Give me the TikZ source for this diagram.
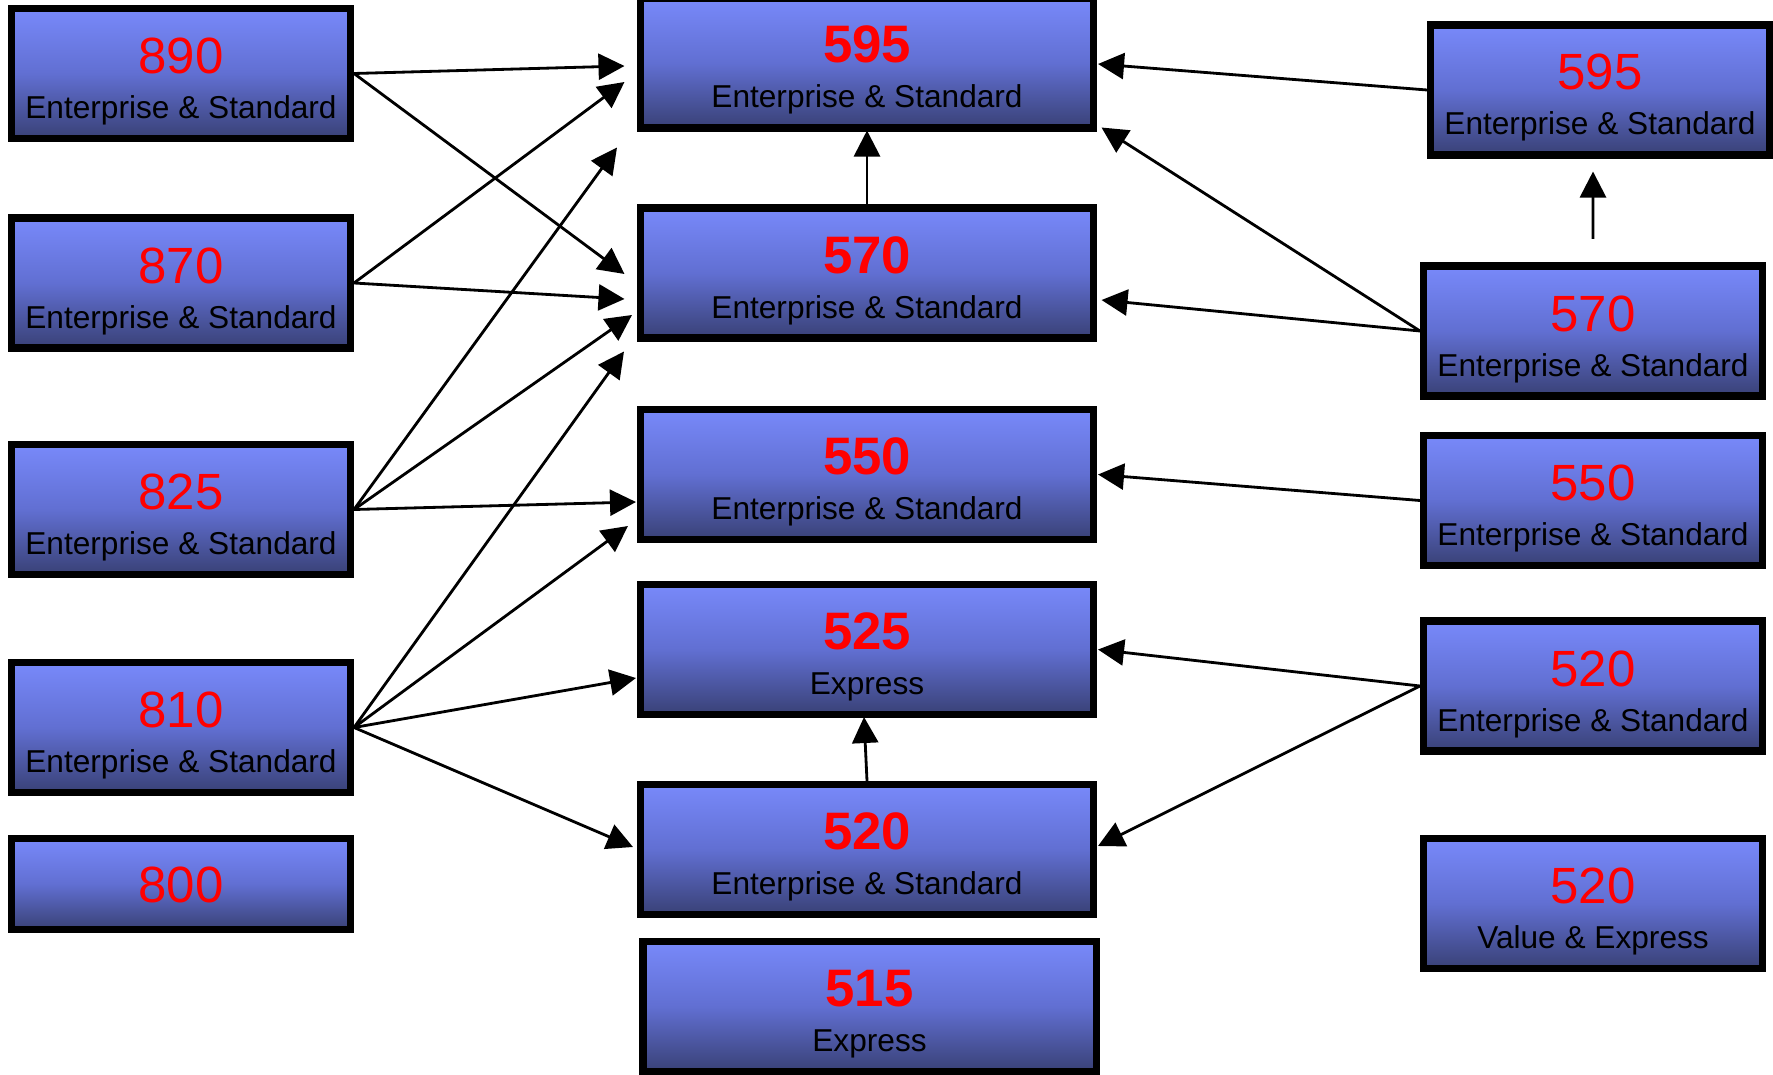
\documentclass[tikz,border=0pt]{standalone}
\usepackage{fontspec}
\setmainfont{Liberation Sans}
\usetikzlibrary{arrows.meta, calc}
\definecolor{boxtop}{RGB}{120,137,250}
\definecolor{boxmid}{RGB}{97,111,210}
\definecolor{boxbot}{RGB}{57,65,118}

\begin{document}
\begin{tikzpicture}[>={Triangle[length=2.6mm, width=2.6mm]},
  gbox/.style={draw, line width=2pt, top color=boxtop, bottom color=boxbot, middle color=boxmid, inner sep=0pt, text height=0pt, text depth=0pt, text=red},
  sidebox/.style={gbox, minimum width=3.39cm, minimum height=1.30cm, font=\fontsize{14.5}{17}\selectfont},
  midbox/.style={gbox, minimum width=4.53cm, minimum height=1.30cm, font=\bfseries\fontsize{15}{18}\selectfont},
  subtxt/.style={anchor=base, inner sep=0pt, font=\fontsize{9}{11}\selectfont},
  link/.style={->, line width=0.8pt}]
  \useasboundingbox (0,0) rectangle (17.73,-10.74);

  % left column
  \node[sidebox] (l890) at (1.81,-0.735) {890};
  \node[subtxt] (l890t) at ($(l890.center)+(0,-0.45)$) {Enterprise \& Standard};
  \node[sidebox] (l870) at (1.81,-2.83) {870};
  \node[subtxt] (l870t) at ($(l870.center)+(0,-0.45)$) {Enterprise \& Standard};
  \node[sidebox] (l825) at (1.81,-5.095) {825};
  \node[subtxt] (l825t) at ($(l825.center)+(0,-0.45)$) {Enterprise \& Standard};
  \node[sidebox] (l810) at (1.81,-7.275) {810};
  \node[subtxt] (l810t) at ($(l810.center)+(0,-0.45)$) {Enterprise \& Standard};
  \node[sidebox, minimum height=0.91cm, text height=10.4pt] (l800) at (1.81,-8.84) {800};

  % middle column
  \node[midbox] (m595) at (8.67,-0.63) {595};
  \node[subtxt] (m595t) at ($(m595.center)+(0,-0.45)$) {Enterprise \& Standard};
  \node[midbox] (m570) at (8.67,-2.73) {570};
  \node[subtxt] (m570t) at ($(m570.center)+(0,-0.45)$) {Enterprise \& Standard};
  \node[midbox] (m550) at (8.67,-4.745) {550};
  \node[subtxt] (m550t) at ($(m550.center)+(0,-0.45)$) {Enterprise \& Standard};
  \node[midbox] (m525) at (8.67,-6.495) {525};
  \node[subtxt] (m525t) at ($(m525.center)+(0,-0.45)$) {Express};
  \node[midbox] (m520) at (8.67,-8.495) {520};
  \node[subtxt] (m520t) at ($(m520.center)+(0,-0.45)$) {Enterprise \& Standard};
  \node[midbox] (m515) at (8.695,-10.065) {515};
  \node[subtxt] (m515t) at ($(m515.center)+(0,-0.45)$) {Express};

  % right column
  \node[sidebox] (r595) at (16.00,-0.90) {595};
  \node[subtxt] (r595t) at ($(r595.center)+(0,-0.45)$) {Enterprise \& Standard};
  \node[sidebox] (r570) at (15.93,-3.31) {570};
  \node[subtxt] (r570t) at ($(r570.center)+(0,-0.45)$) {Enterprise \& Standard};
  \node[sidebox] (r550) at (15.93,-5.005) {550};
  \node[subtxt] (r550t) at ($(r550.center)+(0,-0.45)$) {Enterprise \& Standard};
  \node[sidebox] (r520es) at (15.93,-6.86) {520};
  \node[subtxt] (r520est) at ($(r520es.center)+(0,-0.45)$) {Enterprise \& Standard};
  \node[sidebox] (r520ve) at (15.93,-9.035) {520};
  \node[subtxt] (r520vet) at ($(r520ve.center)+(0,-0.45)$) {Value \& Express};

  % left to middle
  \draw[link] (l890.east) -- ($(m595.west)+(-0.125,-0.03)$);
  \draw[link] (l890.east) -- ($(m570.west)+(-0.125,-0.01)$);
  \draw[link] (l870.east) -- ($(m595.west)+(-0.125,-0.19)$);
  \draw[link] (l870.east) -- ($(m570.west)+(-0.125,-0.26)$);
  \draw[link] (l825.east) -- ($(m595.south west)+(-0.2,-0.16)$);
  \draw[link] (l825.east) -- ($(m570.west)+(-0.05,-0.42)$);
  \draw[link] (l825.east) -- ($(m550.west)+(-0.01,-0.275)$);
  \draw[link] (l810.east) -- ($(m570.south west)+(-0.13,-0.10)$);
  \draw[link] (l810.east) -- ($(m550.west)+(-0.09,-0.515)$);
  \draw[link] (l810.east) -- ($(m525.west)+(-0.01,-0.285)$);
  \draw[link] (l810.east) -- ($(m520.west)+(-0.04,0.025)$);

  % right to middle
  \draw[link] (r595.west) -- ($(m595.east)+(0.01,-0.01)$);
  \draw[link] (r570.west) -- ($(m595.south east)+(0.045,0.04)$);
  \draw[link] (r570.west) -- ($(m570.east)+(0.045,-0.27)$);
  \draw[link] (r550.west) -- ($(m550.east)+(0.01,0)$);
  \draw[link] (r520es.west) -- ($(m525.east)+(0.01,0)$);
  \draw[link] (r520es.west) -- ($(m520.east)+(0.01,0.035)$);

  % upward steps
  \draw[link] (m570.north) -- ($(m595.south)+(0,0.01)$);
  \draw[link] (m520.north) -- ($(m525.south)+(-0.03,0.01)$);
  \draw[link] ($(r570.north)+(0,0.235)$) -- ($(r595.south)+(-0.07,-0.13)$);
\end{tikzpicture}
\end{document}
